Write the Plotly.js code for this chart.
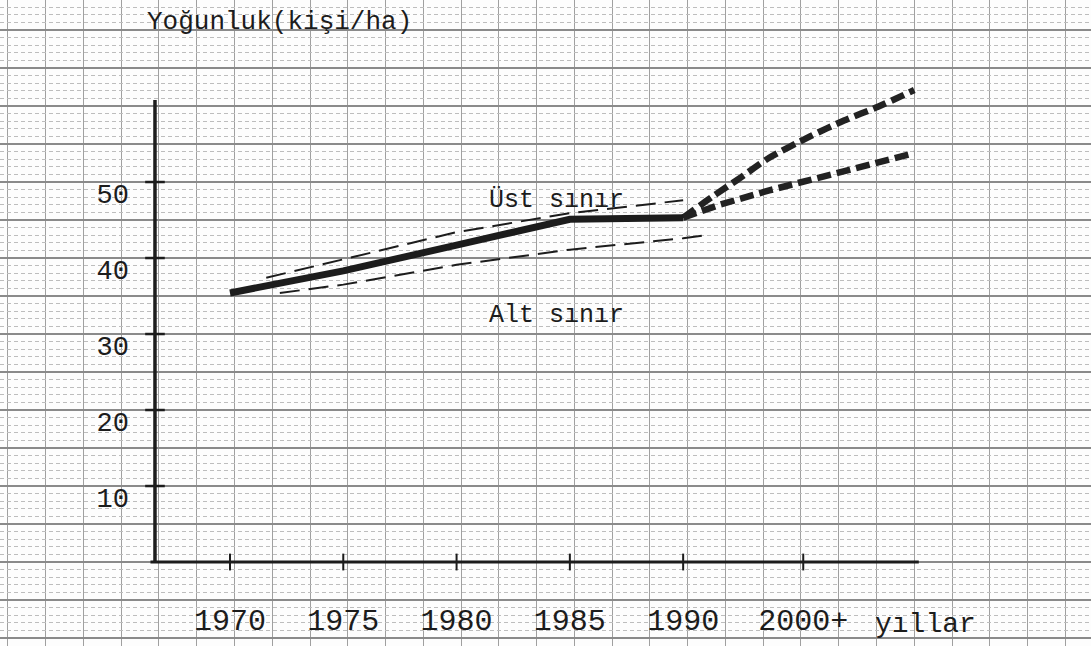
<!DOCTYPE html>
<html>
<head>
<meta charset="utf-8">
<script src="https://cdn.plot.ly/plotly-3.0.1.min.js"></script>
<style>
html,body{margin:0;padding:0;background:#fdfdfd;}
#chart{width:1091px;height:646px;}
</style>
</head>
<body>
<div id="chart"></div>
<script>
// ---- data ----
const years = [1970, 1975, 1980, 1985, 1990];
const density = [35.4, 38.3, 41.7, 45.1, 45.3];

const upperYears = [1971.6, 1975, 1980, 1985, 1990];
const upperBound = [37.4, 39.8, 43.4, 45.9, 47.6];

const lowerYears = [1972.2, 1975, 1980, 1985, 1990, 1991];
const lowerBound = [35.4, 36.5, 39.1, 41.1, 42.6, 43.0];

const projHighYears = [1990, 1991.3, 1992.4, 1993.8, 1995.6, 1997.1, 1998.6, 2000.2];
const projHigh = [45.3, 48.1, 50.3, 53.2, 56.0, 58.1, 59.9, 62.1];
const projLowYears = [1990, 1991.6, 1993.8, 1996.1, 1998.3, 2000.2];
const projLow = [45.3, 47.0, 48.9, 50.7, 52.5, 53.8];

const xTickVals = [1970, 1975, 1980, 1985, 1990, 1995.3];
const xTickText = ['1970', '1975', '1980', '1985', '1990', '2000+'];
const yTickVals = [10, 20, 30, 40, 50];
const yTickText = ['10', '20', '30', '40', '50'];

const yTitle = 'Yoğunluk(kişi/ha)';
const xTitle = 'yıllar';
const upperLabel = 'Üst sınır';
const lowerLabel = 'Alt sınır';

// axis extents of the hand-drawn axes
const axisX0 = 1966.69, axisX1 = 2000.4, axisYTop = 60.8;

// ---- layout helpers ----
const ink = '#1c1c1c';
const mono = 'Liberation Mono, DejaVu Sans Mono, monospace';

// y grid every 5 units; labels only where given
const gridVals = [], gridText = [];
for (let v = -10; v <= 70; v += 5) {
  gridVals.push(v);
  const i = yTickVals.indexOf(v);
  gridText.push(i >= 0 ? yTickText[i] : '');
}

const traces = [
  {x: upperYears, y: upperBound, mode: 'lines', line: {color: ink, width: 2, dash: '20px,9px'}, hoverinfo: 'skip'},
  {x: lowerYears, y: lowerBound, mode: 'lines', line: {color: ink, width: 2, dash: '20px,9px'}, hoverinfo: 'skip'},
  {x: projHighYears, y: projHigh, mode: 'lines', line: {color: '#222', width: 6.5, dash: '14px,6px', shape: 'spline', smoothing: 0.6}, hoverinfo: 'skip'},
  {x: projLowYears, y: projLow, mode: 'lines', line: {color: '#222', width: 6.5, dash: '14px,6px'}, hoverinfo: 'skip'},
  {x: years, y: density, mode: 'lines', line: {color: ink, width: 7}, hoverinfo: 'skip'},
  // tick crosses on the drawn axes
  {x: yTickVals.map(() => axisX0), y: yTickVals, mode: 'markers',
   marker: {symbol: 'line-ew-open', size: 14, color: ink, line: {color: ink, width: 2.5}}, hoverinfo: 'skip'},
  {x: xTickVals, y: xTickVals.map(() => 0), mode: 'markers',
   marker: {symbol: 'line-ns-open', size: 12, color: ink, line: {color: ink, width: 2}}, hoverinfo: 'skip'}
];

const layout = {
  width: 1091, height: 646,
  margin: {l: 0, r: 0, t: 0, b: 0},
  paper_bgcolor: '#fdfdfd', plot_bgcolor: '#fdfdfd',
  showlegend: false,
  xaxis: {
    range: [1959.85, 2008.0], fixedrange: true,
    anchor: 'free', position: 0.072,
    tickmode: 'array', tickvals: xTickVals, ticktext: xTickText,
    ticks: '', showgrid: false, zeroline: false, showline: false,
    tickfont: {family: mono, size: 30, color: ink},
    minor: {tickmode: 'linear', tick0: 1970.2, dtick: 5 / 3, showgrid: true, gridcolor: '#a0a0a0', gridwidth: 1, ticks: ''}
  },
  yaxis: {
    range: [-11.05, 73.95], fixedrange: true,
    anchor: 'free', position: 0.142,
    tickmode: 'array', tickvals: gridVals, ticktext: gridText,
    ticks: '', ticklabelstandoff: 26, ticklabelshift: 12,
    showgrid: true, gridcolor: '#8a8a8a', gridwidth: 1.2, zeroline: false, showline: false,
    tickfont: {family: mono, size: 27, color: ink},
    minor: {tickmode: 'linear', tick0: 0, dtick: 1, showgrid: true, gridcolor: '#bdbdbd', gridwidth: 1, griddash: '4px,3px', ticks: ''}
  },
  shapes: [
    {type: 'line', xref: 'x', yref: 'y', x0: axisX0, x1: axisX0, y0: 0, y1: axisYTop, line: {color: ink, width: 3.5}},
    {type: 'line', xref: 'x', yref: 'y', x0: axisX0 - 0.2, x1: axisX1, y0: 0, y1: 0, line: {color: ink, width: 3}}
  ],
  annotations: [
    {text: yTitle, xref: 'paper', yref: 'paper', x: 145 / 1091, y: 1 - 22 / 646, xanchor: 'left', yanchor: 'middle',
     showarrow: false, font: {family: mono, size: 26, color: ink}},
    {text: xTitle, xref: 'x', yref: 'paper', x: 2000.7, y: 1 - 624 / 646, xanchor: 'center', yanchor: 'middle',
     showarrow: false, font: {family: mono, size: 28, color: ink}},
    {text: upperLabel, xref: 'x', yref: 'y', x: 1984.4, y: 47.6, xanchor: 'center', yanchor: 'middle',
     showarrow: false, font: {family: mono, size: 25, color: ink}},
    {text: lowerLabel, xref: 'x', yref: 'y', x: 1984.4, y: 32.4, xanchor: 'center', yanchor: 'middle',
     showarrow: false, font: {family: mono, size: 25, color: ink}}
  ]
};

Plotly.newPlot('chart', traces, layout, {staticPlot: true, displayModeBar: false});
</script>
</body>
</html>
